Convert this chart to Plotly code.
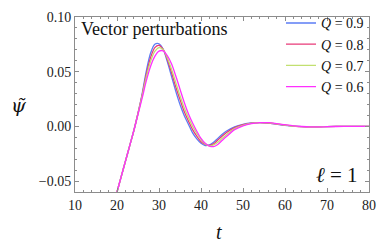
import plotly.graph_objects as go

t = [18, 19, 20, 21, 22, 23, 24, 25, 26, 27, 28, 29, 30, 31, 32, 33, 34, 35, 36, 37, 38, 39, 40,
     41, 42, 43, 44, 45, 46, 48, 50, 52, 54, 56, 58, 60, 62, 64, 66, 68, 70, 74, 80]

psi_q09 = [-0.086, -0.073, -0.060, -0.046, -0.032, -0.018, -0.004, 0.012, 0.030, 0.051, 0.067, 0.075,
           0.0755, 0.0705, 0.059, 0.0455, 0.032, 0.020, 0.010, 0.002, -0.006, -0.0115, -0.0155,
           -0.0175, -0.017, -0.0145, -0.011, -0.0075, -0.0045, -0.0005, 0.0018, 0.0031, 0.0035,
           0.003, 0.002, 0.001, 0.0002, -0.0003, -0.0005, -0.0004, -0.0002, 0.0, 0.0]
psi_q08 = [-0.086, -0.073, -0.060, -0.046, -0.032, -0.018, -0.004, 0.012, 0.029, 0.048, 0.063, 0.072,
           0.074, 0.0705, 0.061, 0.049, 0.036, 0.0245, 0.0135, 0.005, -0.003, -0.009, -0.014,
           -0.0165, -0.0175, -0.016, -0.0125, -0.009, -0.0058, -0.0012, 0.0015, 0.003, 0.0035,
           0.0031, 0.0021, 0.0011, 0.0003, -0.0003, -0.0005, -0.0004, -0.0002, 0.0, 0.0]
psi_q07 = [-0.086, -0.073, -0.060, -0.046, -0.032, -0.018, -0.004, 0.0115, 0.028, 0.0455, 0.0595, 0.0685,
           0.072, 0.070, 0.0625, 0.052, 0.040, 0.028, 0.017, 0.008, 0.000, -0.0065, -0.012,
           -0.016, -0.0178, -0.017, -0.0145, -0.011, -0.0078, -0.002, 0.001, 0.0028, 0.0035,
           0.0032, 0.0023, 0.0012, 0.0003, -0.0002, -0.0005, -0.0004, -0.0002, 0.0, 0.0]
psi_q06 = [-0.086, -0.073, -0.060, -0.046, -0.032, -0.018, -0.004, 0.011, 0.026, 0.042, 0.055, 0.064,
           0.0688, 0.069, 0.0645, 0.057, 0.046, 0.034, 0.022, 0.0115, 0.003, -0.0045, -0.011,
           -0.0155, -0.018, -0.0185, -0.0165, -0.013, -0.0095, -0.003, 0.0005, 0.0025, 0.0034,
           0.0034, 0.0026, 0.0015, 0.0005, -0.0001, -0.0005, -0.0005, -0.0003, 0.0, 0.0]

series_names = ["<i>Q</i> = 0.9", "<i>Q</i> = 0.8", "<i>Q</i> = 0.7", "<i>Q</i> = 0.6"]
series_values = [psi_q09, psi_q08, psi_q07, psi_q06]
colors = ["#5b7cf5", "#e83a78", "#c2e070", "#ff30ff"]

x_ticks = [10, 20, 30, 40, 50, 60, 70, 80]
y_ticks = [-0.05, 0.00, 0.05, 0.10]

serif = "Liberation Serif"

fig = go.Figure()
for name, vals, c in zip(series_names, series_values, colors):
    fig.add_trace(go.Scatter(x=t, y=vals, mode="lines", name=name,
                             line=dict(color=c, width=1.3, shape="spline", smoothing=0.8)))

axis_common = dict(showgrid=False, zeroline=False, showline=True, linecolor="#8c8c8c", linewidth=1,
                   mirror="ticks", ticks="inside", tickcolor="#8c8c8c", ticklen=4, tickwidth=1,
                   tickfont=dict(family=serif, size=14, color="#222"))

fig.update_xaxes(range=[10, 80], tickvals=x_ticks, ticktext=[str(v) for v in x_ticks],
                 minor=dict(ticks="inside", dtick=2, ticklen=2, tickcolor="#8c8c8c", tick0=10),
                 **axis_common)
fig.update_yaxes(range=[-0.06, 0.10], tickvals=y_ticks, tickformat=".2f",
                 minor=dict(ticks="inside", dtick=0.01, ticklen=2, tickcolor="#8c8c8c", tick0=0),
                 **axis_common)

fig.add_annotation(xref="paper", yref="paper", x=0.012, y=1.0, xanchor="left", yanchor="top",
                   text="Vector perturbations", showarrow=False,
                   font=dict(family=serif, size=18, color="#111"))
fig.add_annotation(xref="paper", yref="paper", x=0.97, y=0.02, xanchor="right", yanchor="bottom",
                   text="<i>ℓ</i> = 1", showarrow=False,
                   font=dict(family=serif, size=21, color="#111"))
fig.add_annotation(xref="paper", yref="paper", x=0.49, y=-0.155, xanchor="center", yanchor="top",
                   text="<i>t</i>", showarrow=False,
                   font=dict(family=serif, size=20, color="#111"))
fig.add_annotation(xref="paper", yref="paper", x=-0.19, y=0.5, xanchor="center", yanchor="middle",
                   text="<i>\u03c8\u0303</i>", showarrow=False,
                   font=dict(family="DejaVu Serif", size=19, color="#111"))

fig.update_layout(
    width=383, height=247,
    margin=dict(l=75, r=8, t=7, b=55),
    paper_bgcolor="white", plot_bgcolor="white",
    showlegend=True,
    legend=dict(x=1.0, y=1.055, xanchor="right", yanchor="top", bgcolor="rgba(0,0,0,0)",
                font=dict(family=serif, size=14, color="#111"), itemwidth=30,
                tracegroupgap=0),
)

fig.write_html("out.html", config={"displayModeBar": False},
               post_script="document.body.style.margin='0';document.body.style.overflow='hidden';")
